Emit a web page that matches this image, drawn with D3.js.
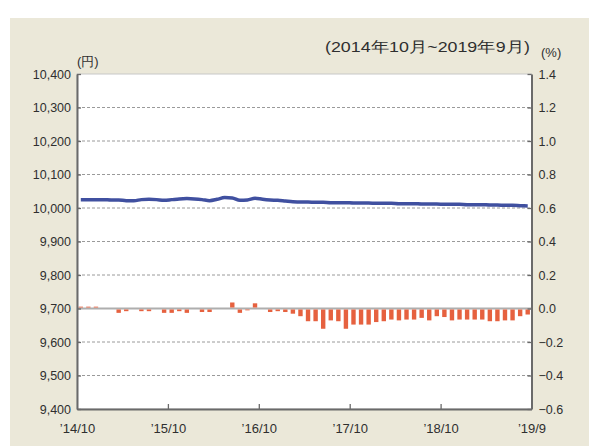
<!DOCTYPE html>
<html>
<head>
<meta charset="utf-8">
<script src="https://cdn.jsdelivr.net/npm/d3@7"></script>
<style>
  body { margin: 0; background: #fff; }
  svg text { font-family: "Liberation Sans", Arial, sans-serif; fill: #2f2f2f; }
</style>
</head>
<body>
<div id="chart"></div>
<script>
// yen, left axis (line), monthly 2014/10 .. 2019/9
const priceValues = [
    10025, 10025, 10025, 10025, 10024, 10024, 10022, 10022, 10025, 10026,
    10025, 10023, 10025, 10027, 10028, 10027, 10025, 10022, 10026, 10031,
    10030, 10023, 10024, 10029, 10026, 10024, 10023, 10021, 10019, 10018,
    10018, 10017, 10017, 10016, 10016, 10016, 10015, 10015, 10015, 10014,
    10014, 10014, 10013, 10013, 10013, 10012, 10012, 10012, 10011, 10011,
    10011, 10010, 10010, 10010, 10009, 10009, 10008, 10008, 10007, 10006
]

// %, right axis (bars)
const rateValues = [
    0.005, 0.005, 0.005, 0, 0, -0.02, -0.01, 0, -0.01, -0.01,
    0, -0.02, -0.02, -0.01, -0.02, 0, -0.015, -0.015, 0, 0,
    0.03, -0.02, -0.005, 0.025, 0, -0.015, -0.01, -0.015, -0.025, -0.04,
    -0.07, -0.07, -0.115, -0.065, -0.07, -0.115, -0.09, -0.09, -0.09, -0.075,
    -0.07, -0.06, -0.065, -0.06, -0.06, -0.05, -0.065, -0.04, -0.045, -0.065,
    -0.06, -0.06, -0.06, -0.06, -0.07, -0.07, -0.065, -0.065, -0.04, -0.03
]

const leftTicks = d3.range(9400, 10401, 100)
const rightTicks = [-0.6, -0.4, -0.2, 0.0, 0.2, 0.4, 0.6, 0.8, 1.0, 1.2, 1.4]
const xTickIndex = [0, 12, 24, 36, 48, 60]
const xTickLabels = ["’14/10", "’15/10", "’16/10", "’17/10", "’18/10", "’19/9"]

const W = 589, H = 447
const plotLeft = 77, plotRight = 531.5, plotTop = 74, plotBottom = 409

const svg = d3.select("#chart").append("svg")
    .attr("width", W)
    .attr("height", H)

// beige panel
svg.append("rect")
    .attr("x", 10).attr("y", 18)
    .attr("width", W - 10).attr("height", 428)
    .attr("fill", "#ebe8d9")

// plot area
svg.append("rect")
    .attr("x", plotLeft).attr("y", plotTop)
    .attr("width", plotRight - plotLeft).attr("height", plotBottom - plotTop)
    .attr("fill", "#fff")
    .attr("stroke", "#c8c8c8")
    .attr("stroke-width", 1)

const x = d3.scaleLinear().domain([0, 60]).range([plotLeft, plotRight])
const yL = d3.scaleLinear().domain([9400, 10400]).range([plotBottom, plotTop])
const yR = d3.scaleLinear().domain([-0.6, 1.4]).range([plotBottom, plotTop])

// dashed grid
svg.append("g")
    .selectAll("line")
    .data(leftTicks.filter(d => d > 9400 && d < 10400 && d != 9700))
    .join("line")
    .attr("x1", plotLeft).attr("x2", plotRight)
    .attr("y1", d => yL(d)).attr("y2", d => yL(d))
    .attr("stroke", "#9a9a9a")
    .attr("stroke-width", 1)
    .attr("stroke-dasharray", "3,2")

// zero line for bars
svg.append("line")
    .attr("x1", plotLeft).attr("x2", plotRight)
    .attr("y1", yR(0)).attr("y2", yR(0))
    .attr("stroke", "#aeaeae")
    .attr("stroke-width", 2.2)

// bars
const bw = (x(1) - x(0)) * 0.58
svg.append("g")
    .selectAll("rect")
    .data(rateValues)
    .join("rect")
    .attr("x", (d, i) => x(i + 0.5) - bw / 2)
    .attr("y", d => d >= 0 ? yR(d) - 1 : yR(0) + 1)
    .attr("width", bw)
    .attr("height", d => d == 0 ? 0 : Math.abs(yR(d) - yR(0)))
    .attr("fill", "#e6613f")

// line
const line = d3.line()
    .x((d, i) => x(i + 0.5))
    .y(d => yL(d))
    .curve(d3.curveMonotoneX)

svg.append("path")
    .datum(priceValues)
    .attr("d", line)
    .attr("fill", "none")
    .attr("stroke", "#4050a0")
    .attr("stroke-width", 3.5)

// axes
const fmt = d3.format(",")
const leftAxis = svg.append("g")
    .attr("transform", `translate(${plotLeft},0)`)
    .call(d3.axisLeft(yL).tickValues(leftTicks).tickFormat(fmt).tickSizeInner(-4).tickSizeOuter(0).tickPadding(6))

const rightAxis = svg.append("g")
    .attr("transform", `translate(${plotRight},0)`)
    .call(d3.axisRight(yR).tickValues(rightTicks).tickFormat(d => d < 0 ? "\u2212" + Math.abs(d).toFixed(1) : d.toFixed(1)).tickSizeInner(-4).tickSizeOuter(0).tickPadding(6))

const bottomAxis = svg.append("g")
    .attr("transform", `translate(0,${plotBottom})`)
    .call(d3.axisBottom(x).tickValues(xTickIndex).tickFormat((d, i) => xTickLabels[i]).tickSizeInner(-5).tickSizeOuter(0).tickPadding(12))

svg.selectAll(".domain").attr("stroke", "#6a6a6a").attr("stroke-width", 2)
svg.selectAll(".tick line").attr("stroke", "#6a6a6a").attr("stroke-width", 1.3)
svg.selectAll(".tick text").style("font-size", "12.5px").attr("fill", "#2f2f2f")
bottomAxis.selectAll(".tick").filter(d => d == 0 || d == 60).select("line").remove()
bottomAxis.selectAll(".tick text").attr("dy", "0.9em").style("font-size", "13px")
rightAxis.selectAll(".tick text").attr("x", 7)

// unit labels and period
svg.append("text")
    .attr("x", 77).attr("y", 66)
    .style("font-size", "13px")
    .text("(円)")

svg.append("text")
    .attr("x", 541).attr("y", 57)
    .style("font-size", "13px")
    .text("(%)")

svg.append("text")
    .attr("x", 530).attr("y", 52)
    .attr("text-anchor", "end")
    .attr("textLength", 205)
    .attr("lengthAdjust", "spacingAndGlyphs")
    .style("font-size", "14.5px")
    .text("(2014年10月~2019年9月)")
</script>
</body>
</html>
